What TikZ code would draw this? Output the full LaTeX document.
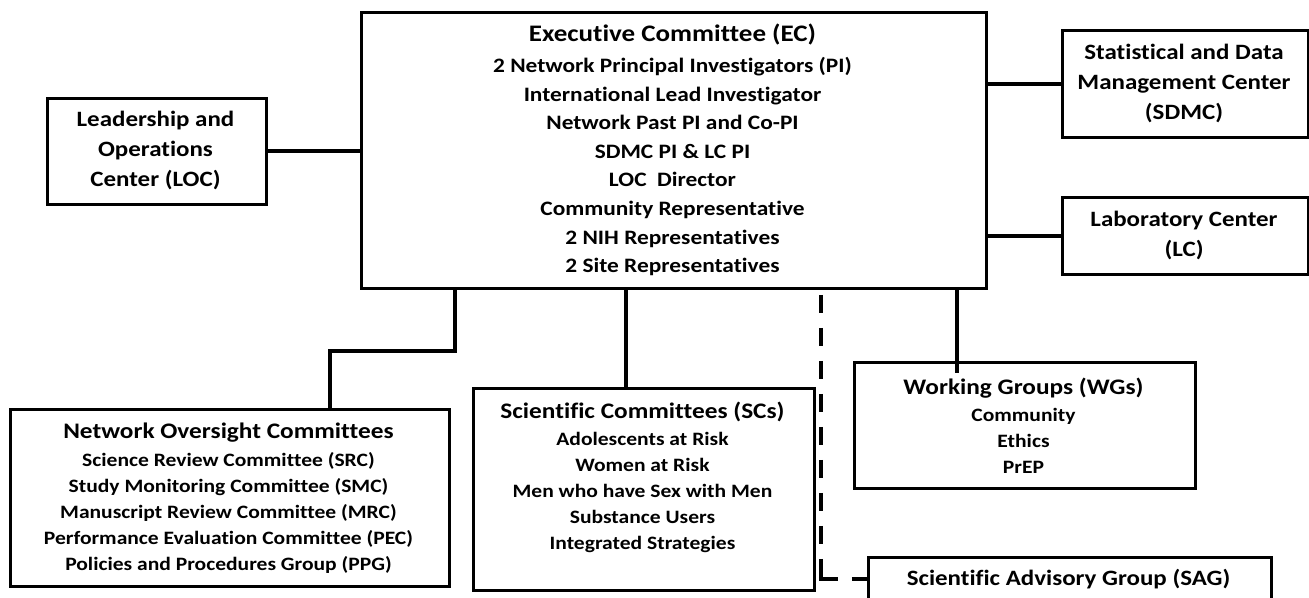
\documentclass[tikz,border=0pt]{standalone}
\usepackage{graphicx}
\usepackage{fontspec}
\setmainfont{Carlito}[Ligatures={NoCommon}]
\newcommand\hs[1]{\scalebox{1.14}[1]{#1}}
\begin{document}
\begin{tikzpicture}[x=1pt,y=-1pt,
  box/.style={draw=black, line width=2.8pt, inner sep=0pt, anchor=north west},
  txt/.style={align=center, inner sep=0pt, font=\bfseries\fontsize{21.9}{30}\selectfont},
  bodytxt/.style={align=center, inner sep=0pt, font=\bfseries\fontsize{18.9}{26}\selectfont},
  link/.style={line width=4pt},
  dlink/.style={line width=4.5pt, dash pattern=on 18pt off 15pt, dash phase=28pt},
  hlink/.style={line width=4.5pt, dash pattern=on 19pt off 14pt}
]
\useasboundingbox (0,0) rectangle (1309,597);
\clip (0,0) rectangle (1309,597);

% boxes
\node[box, minimum width=625pt, minimum height=276pt] (ec) at (360,11) {};
\node[box, minimum width=219pt, minimum height=106pt] (loc) at (46,97) {};
\node[box, minimum width=246pt, minimum height=107pt] (sdmc) at (1061,29) {};
\node[box, minimum width=246pt, minimum height=77pt] (lc) at (1061,196) {};
\node[box, minimum width=439pt, minimum height=177pt] (noc) at (9,408) {};
\node[box, minimum width=341pt, minimum height=202pt] (sc) at (472,387) {};
\node[box, minimum width=341pt, minimum height=126pt] (wg) at (853,361) {};
\node[box, minimum width=403pt, minimum height=90pt] (sag) at (867,556) {};

% texts
\node[txt, font=\bfseries\fontsize{20.5}{28.6}\selectfont] (ect) at (672.5,150)
  {{\fontsize{23.7}{30}\selectfont\hs{Executive Committee (EC)}}\\[2.4pt]
   \hs{2 Network Principal Investigators (PI)}\\
   \hs{International Lead Investigator}\\
   \hs{Network Past PI and Co-PI}\\
   \hs{SDMC PI \& LC PI}\\
   \hs{LOC~~Director}\\
   \hs{Community Representative}\\
   \hs{2 NIH Representatives}\\
   \hs{2 Site Representatives}};
\node[txt] (loct) at (155.5,150) {\hs{Leadership and}\\ \hs{Operations}\\ \hs{Center (LOC)}};
\node[txt] (sdmct) at (1184,83) {\hs{Statistical and Data}\\ \hs{Management Center}\\ \hs{(SDMC)}};
\node[txt] (lct) at (1184,235) {\hs{Laboratory Center}\\ \hs{(LC)}};
\node[bodytxt] (noct) at (228.5,498)
  {{\fontsize{22.2}{30}\selectfont\hs{Network Oversight Committees}}\\[1.5pt]
   \hs{Science Review Committee (SRC)}\\
   \hs{Study Monitoring Committee (SMC)}\\
   \hs{Manuscript Review Committee (MRC)}\\
   \hs{Performance Evaluation Committee (PEC)}\\
   \hs{Policies and Procedures Group (PPG)}};
\node[bodytxt] (sct) at (642.5,477)
  {{\fontsize{22.2}{30}\selectfont\hs{Scientific Committees (SCs)}}\\[1pt]
   \hs{Adolescents at Risk}\\
   \hs{Women at Risk}\\
   \hs{Men who have Sex with Men}\\
   \hs{Substance Users}\\
   \hs{Integrated Strategies}};
\node[bodytxt] (wgt) at (1023.5,426)
  {{\fontsize{22.2}{30}\selectfont\hs{Working Groups (WGs)}}\\[1.5pt]
   \hs{Community}\\
   \hs{Ethics}\\
   \hs{PrEP}};
\node[txt] (sagt) at (1068.5,579) {\hs{Scientific Advisory Group (SAG)}};

% connector points
\coordinate (j1) at (455,351);
\coordinate (j2) at (330,351);
\coordinate (scx) at (626,0);
\coordinate (wgend) at (957,373);
\coordinate (dj) at (821,579);

% connectors
\draw[link] (loc.east) -- (loc.east -| ec.west);
\draw[link] (sdmc.west) -- (sdmc.west -| ec.east);
\draw[link] (lc.west) -- (lc.west -| ec.east);
\draw[link] (ec.south -| j1) -- (j1) -- (j2) -- (noc.north -| j2);
\draw[link] (ec.south -| scx) -- (sc.north -| scx);
\draw[link] (ec.south -| wgend) -- (wgend);
\draw[dlink] (ec.south -| dj) -- (dj);
\draw[hlink] ([xshift=-2.25pt]dj) -- (dj -| sag.west);
\end{tikzpicture}
\end{document}
